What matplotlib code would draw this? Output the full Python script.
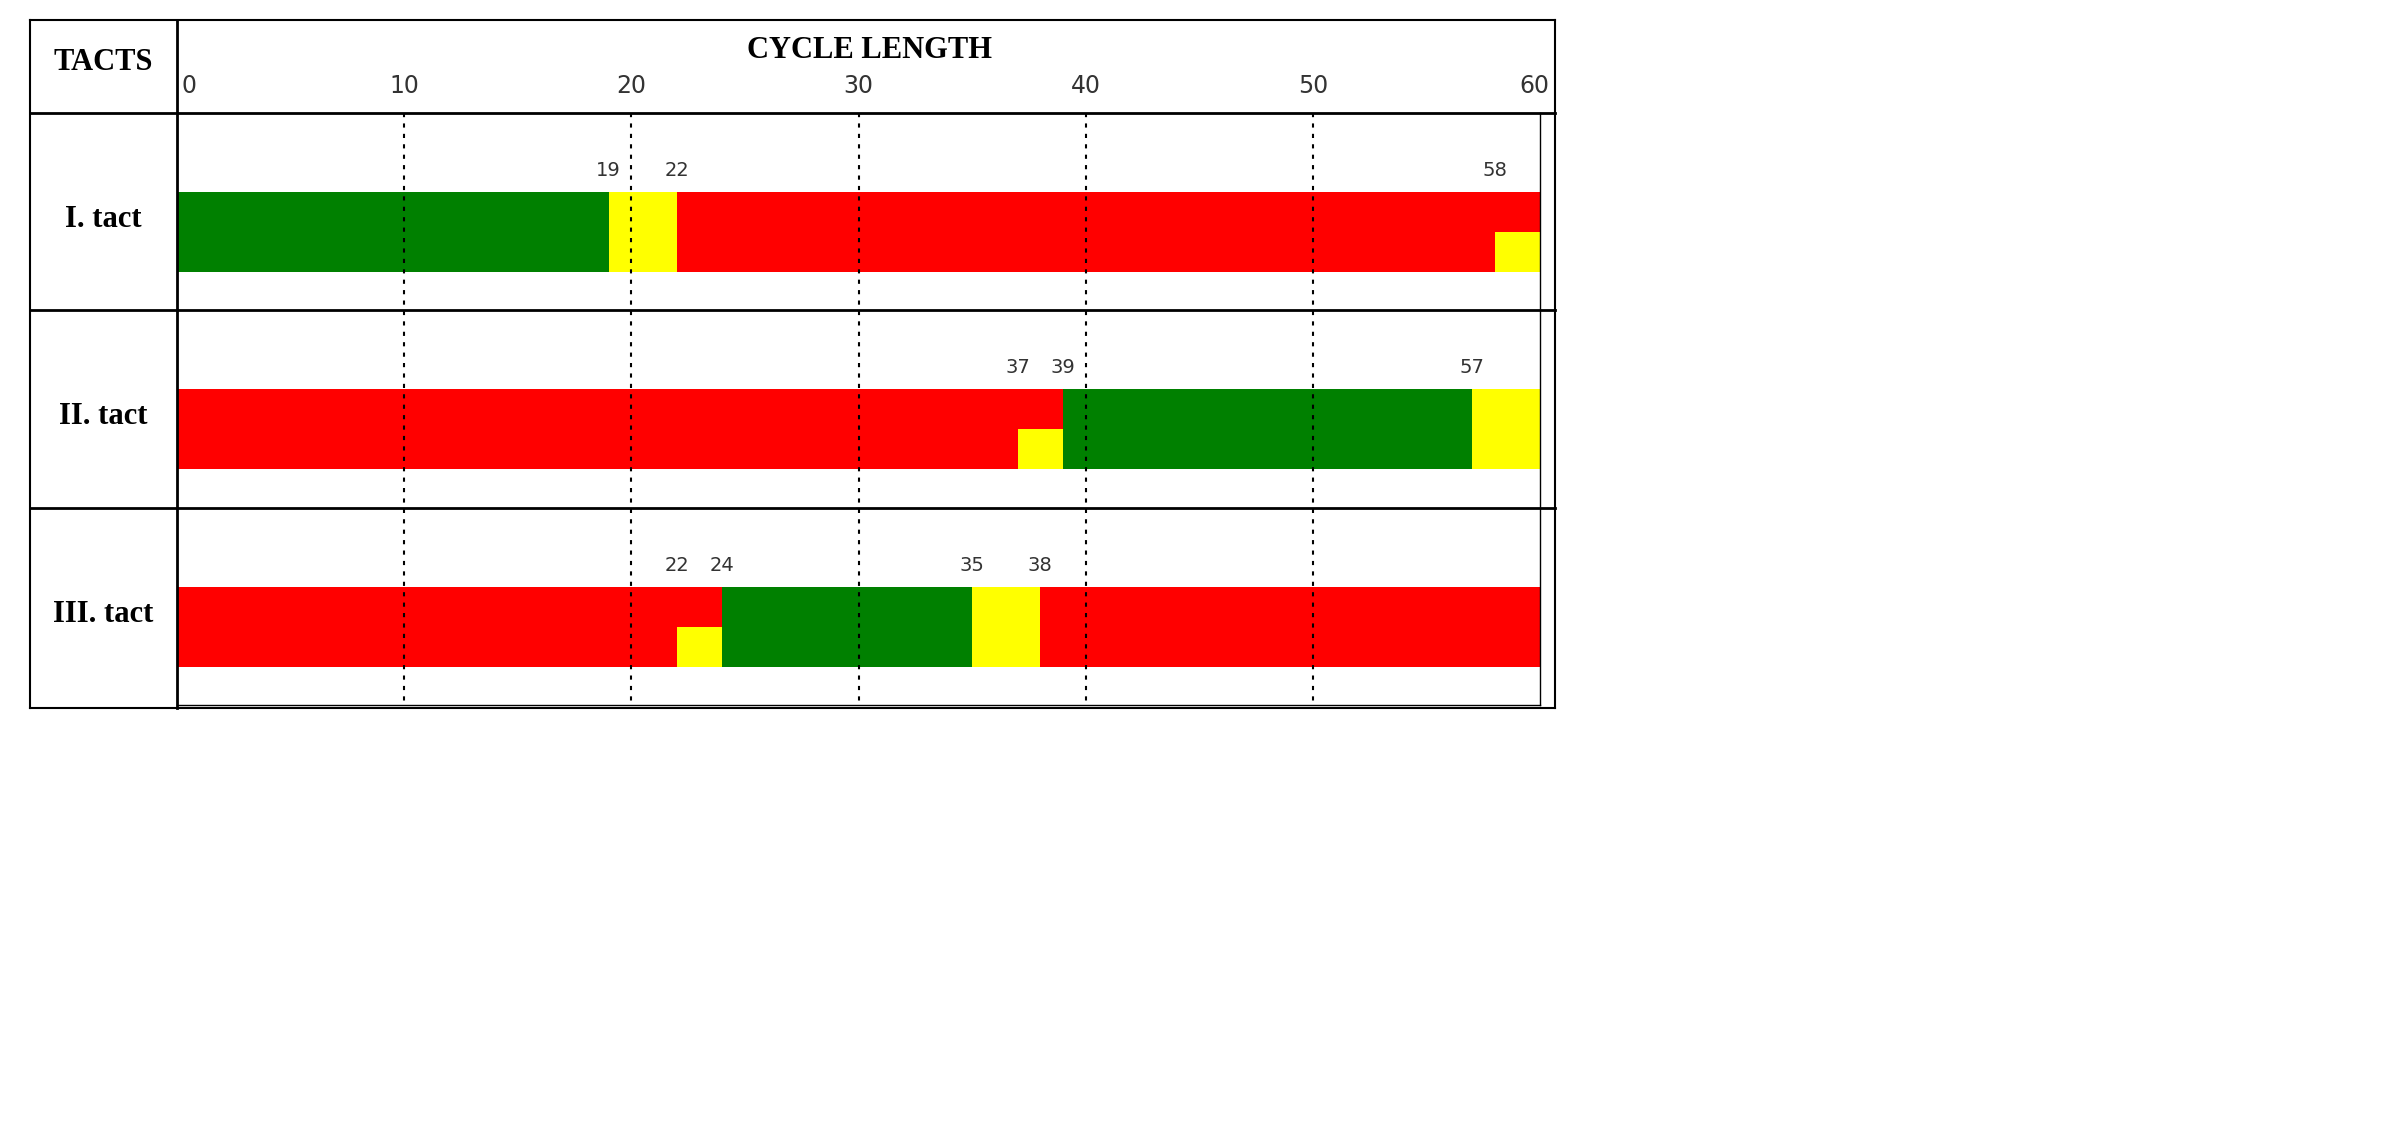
import matplotlib.pyplot as plt
from matplotlib.lines import Line2D

# (start, end, colour, full/low) per tact
tacts = ["I. tact", "II. tact", "III. tact"]
segments = [
    [(0, 19, "green", "full"), (19, 22, "yellow", "full"), (22, 60, "red", "full"), (58, 60, "yellow", "low")],
    [(0, 39, "red", "full"), (37, 39, "yellow", "low"), (39, 57, "green", "full"), (57, 60, "yellow", "full")],
    [(0, 24, "red", "full"), (22, 24, "yellow", "low"), (24, 35, "green", "full"), (35, 38, "yellow", "full"), (38, 60, "red", "full")],
]
marks = [[19, 22, 58], [37, 39, 57], [22, 24, 35, 38]]
ticks = [0, 10, 20, 30, 40, 50, 60]

W, H = 2390, 1126
fig = plt.figure(figsize=(W / 100, H / 100), dpi=100)
x0, x1, y0, y1 = 177, 1555, 20, 708
ax = fig.add_axes([x0 / W, 1 - y1 / H, (x1 - x0) / W, (y1 - y0) / H])
px = 1363 / 60  # pixels per unit
xmax = (x1 - x0) / px
ax.set_xlim(0, xmax)
ax.set_ylim(y1, y0)
ax.axis("off")

row_tops = [113, 310, 508]
row_h = 197
serif = "Liberation Serif"

for t in ticks[1:-1]:
    ax.plot([t, t], [113, 705], ls=(0, (2, 3)), color="black", lw=1.5)

for top, segs, mk, name in zip(row_tops, segments, marks, tacts):
    b0, b1 = top + 79, top + 159
    for s, e, c, kind in segs:
        lo = b0 if kind == "full" else (b0 + b1) / 2
        ax.fill_between([s, e], lo, b1, color=c, lw=0)
    for m in mk:
        ax.text(m, b0 - 12, str(m), ha="center", va="bottom", fontsize=14, color="#333333")
    ax.text(-(x0 - 30) / 2 / px, top + row_h / 2 + 8, name, ha="center", va="center",
            fontsize=22, fontweight="bold", family=serif, clip_on=False)

for t in ticks:
    ha = "left" if t == 0 else ("right" if t == 60 else "center")
    xt = 0.2 if t == 0 else (60.4 if t == 60 else t)
    ax.text(xt, 98, str(t), ha=ha, va="bottom", fontsize=17, color="#333333")

ax.text(30.5, 50, "CYCLE LENGTH", ha="center", va="center", fontsize=22, fontweight="bold", family=serif)
ax.text(-(x0 - 30) / 2 / px, 63, "TACTS", ha="center", va="center", fontsize=22,
        fontweight="bold", family=serif, clip_on=False)

# table lines in figure pixels
def fline(xa, ya, xb, yb, lw=1.5):
    fig.add_artist(Line2D([xa / W, xb / W], [1 - ya / H, 1 - yb / H], color="black", lw=lw))

fline(30, 20, 1555, 20)
fline(30, 708, 1555, 708)
fline(30, 20, 30, 708)
fline(1555, 20, 1555, 708)
fline(177, 20, 177, 708, 2)
for yy in [113, 310, 508]:
    fline(30, yy, 1555, yy, 2)
fline(1540, 113, 1540, 705, 1)
fline(177, 705, 1540, 705, 1)

fig.savefig("out.png", dpi=100)
